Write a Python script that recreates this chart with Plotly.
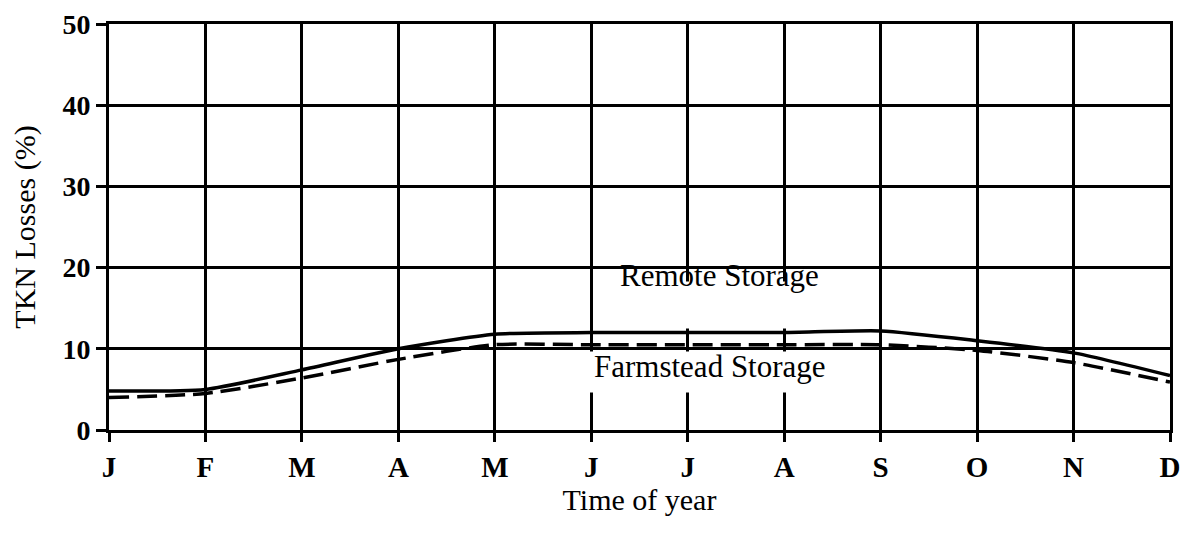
import plotly.graph_objects as go

# ── Dados ────────────────────────────────────────────────────────────────────
MESES = ["J", "F", "M", "A", "M", "J", "J", "A", "S", "O", "N", "D"]
POSICAO = list(range(12))
REMOTE = [4.8, 5.0, 7.4, 10.0, 11.8, 12.0, 12.0, 12.0, 12.2, 11.0, 9.5, 6.7]
FARMSTEAD = [4.0, 4.5, 6.4, 8.7, 10.5, 10.5, 10.5, 10.5, 10.5, 9.8, 8.3, 5.9]
Y_TICKS = [0, 10, 20, 30, 40, 50]

FONTE = "Liberation Serif, Times New Roman, serif"

fig = go.Figure()

fig.add_trace(go.Scatter(
    x=POSICAO, y=REMOTE, mode="lines",
    line=dict(color="black", width=3.5, shape="spline", smoothing=0.6),
    name="Remote Storage",
))
fig.add_trace(go.Scatter(
    x=POSICAO, y=FARMSTEAD, mode="lines",
    line=dict(color="black", width=3.5, dash="20px,8px", shape="spline", smoothing=0.6),
    name="Farmstead Storage",
))

# caixas brancas que interrompem as linhas de grade verticais sob os rótulos
fig.add_annotation(x=6.23, y=15.4, text=" ", showarrow=False, width=180, height=46,
                   bgcolor="white", borderpad=0)
fig.add_annotation(x=6.23, y=7.15, text=" ", showarrow=False, width=250, height=40,
                   bgcolor="white", borderpad=0)

fig.add_annotation(x=6.33, y=19.0, text="Remote Storage", showarrow=False,
                   font=dict(family=FONTE, size=31, color="black"))
fig.add_annotation(x=6.23, y=7.8, text="Farmstead Storage", showarrow=False,
                   font=dict(family=FONTE, size=31, color="black"))

# a página tem 8px de margem no body: margens compensadas
fig.update_layout(
    width=1201, height=533,
    paper_bgcolor="white", plot_bgcolor="white",
    margin=dict(l=101, r=39, t=16, b=111),
    showlegend=False,
    font=dict(family=FONTE, color="black"),
    xaxis=dict(
        range=[0, 11], tickvals=POSICAO, ticktext=MESES,
        showgrid=True, gridcolor="black", gridwidth=3,
        showline=True, linecolor="black", linewidth=3, mirror=True,
        ticks="outside", ticklen=9, tickwidth=3, tickcolor="black",
        tickfont=dict(family=FONTE, size=29, color="black", weight="bold"),
        title=dict(text="Time of year", font=dict(family=FONTE, size=30), standoff=3),
        zeroline=False, automargin=False,
    ),
    yaxis=dict(
        range=[0, 50], tickvals=Y_TICKS,
        showgrid=True, gridcolor="black", gridwidth=3,
        showline=True, linecolor="black", linewidth=3, mirror=True,
        ticks="outside", ticklen=10, tickwidth=3, tickcolor="black",
        tickfont=dict(family=FONTE, size=28, color="black", weight="bold"),
        title=dict(text="TKN Losses (%)", font=dict(family=FONTE, size=30), standoff=40),
        zeroline=False, automargin=False,
    ),
)

fig.write_html("out.html")
